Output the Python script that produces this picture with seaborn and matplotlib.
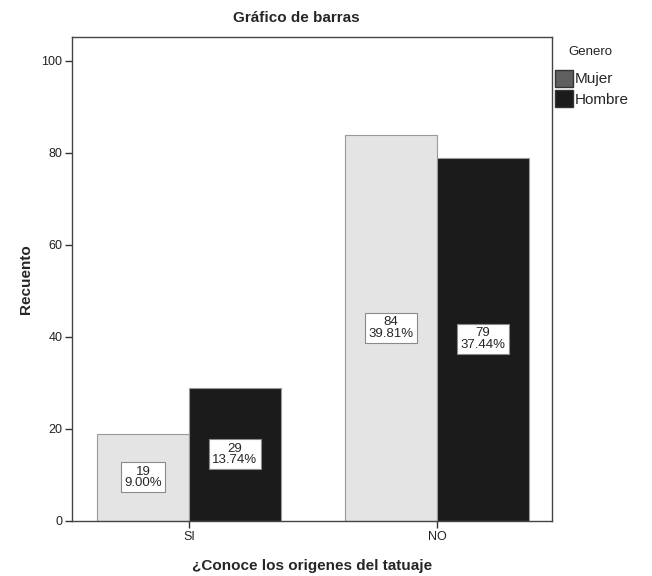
import matplotlib
matplotlib.use("Agg")
import matplotlib.pyplot as plt
from matplotlib.patches import Patch
import seaborn as sns
import pandas as pd

respuestas = ["SI", "NO"]
generos = ["Mujer", "Hombre"]
mujer = [19, 84]
hombre = [29, 79]

df = pd.DataFrame({
    "respuesta": respuestas * 2,
    "genero": ["Mujer"] * 2 + ["Hombre"] * 2,
    "recuento": mujer + hombre,
})
total = df["recuento"].sum()

sns.set_style("white")
plt.rcParams["font.family"] = ["Liberation Sans", "DejaVu Sans"]

fig = plt.figure(figsize=(6.52, 5.76), dpi=100)
ax = fig.add_axes([0.1104, 0.0955, 0.7362, 0.8403])

sns.barplot(data=df, x="respuesta", y="recuento", hue="genero", order=respuestas,
            hue_order=generos, palette={"Mujer": "#e4e4e4", "Hombre": "#1b1b1b"},
            width=0.742, gap=0, edgecolor="#9a9a9a", linewidth=0.8, ax=ax,
            legend=False)

for cont in ax.containers:
    labels = [f"{int(b.get_height())}\n{b.get_height() / total * 100:.2f}%" for b in cont]
    ax.bar_label(cont, labels=labels, label_type="center", fontsize=9.5,
                 linespacing=0.95,
                 bbox=dict(boxstyle="square,pad=0.25", fc="white", ec="#8a8a8a", lw=0.8))

ax.set_ylim(0, 105.2)
ax.set_xlim(-0.472, 1.464)
ax.set_yticks([0, 20, 40, 60, 80, 100])
ax.tick_params(axis="both", direction="out", length=5, width=1, color="#333333",
               labelsize=9, labelcolor="#222222", left=True, bottom=True, pad=2)
for s in ax.spines.values():
    s.set_color("#444444")
    s.set_linewidth(1.0)

ax.set_xlabel("¿Conoce los origenes del tatuaje", fontsize=11, fontweight="bold", labelpad=12)
ax.set_ylabel("Recuento", fontsize=11, fontweight="bold", labelpad=6)
fig.text(0.454, 0.968, "Gráfico de barras", ha="center", va="center",
         fontsize=11, fontweight="bold")

fig.text(590 / 652, 1 - 52 / 576, "Genero", ha="center", va="center",
         fontsize=9.5, color="#222222")
handles = [Patch(facecolor="#5f5f5f", edgecolor="#333333"),
           Patch(facecolor="#1b1b1b", edgecolor="#333333")]
fig.legend(handles, generos, loc="upper left",
           bbox_to_anchor=(555 / 652, 1 - 70 / 576), frameon=False, fontsize=11,
           handlelength=1.2, handleheight=1.3,
           handletextpad=0.1, labelspacing=0.25, borderaxespad=0, borderpad=0)

fig.savefig("out.png", dpi=100)
